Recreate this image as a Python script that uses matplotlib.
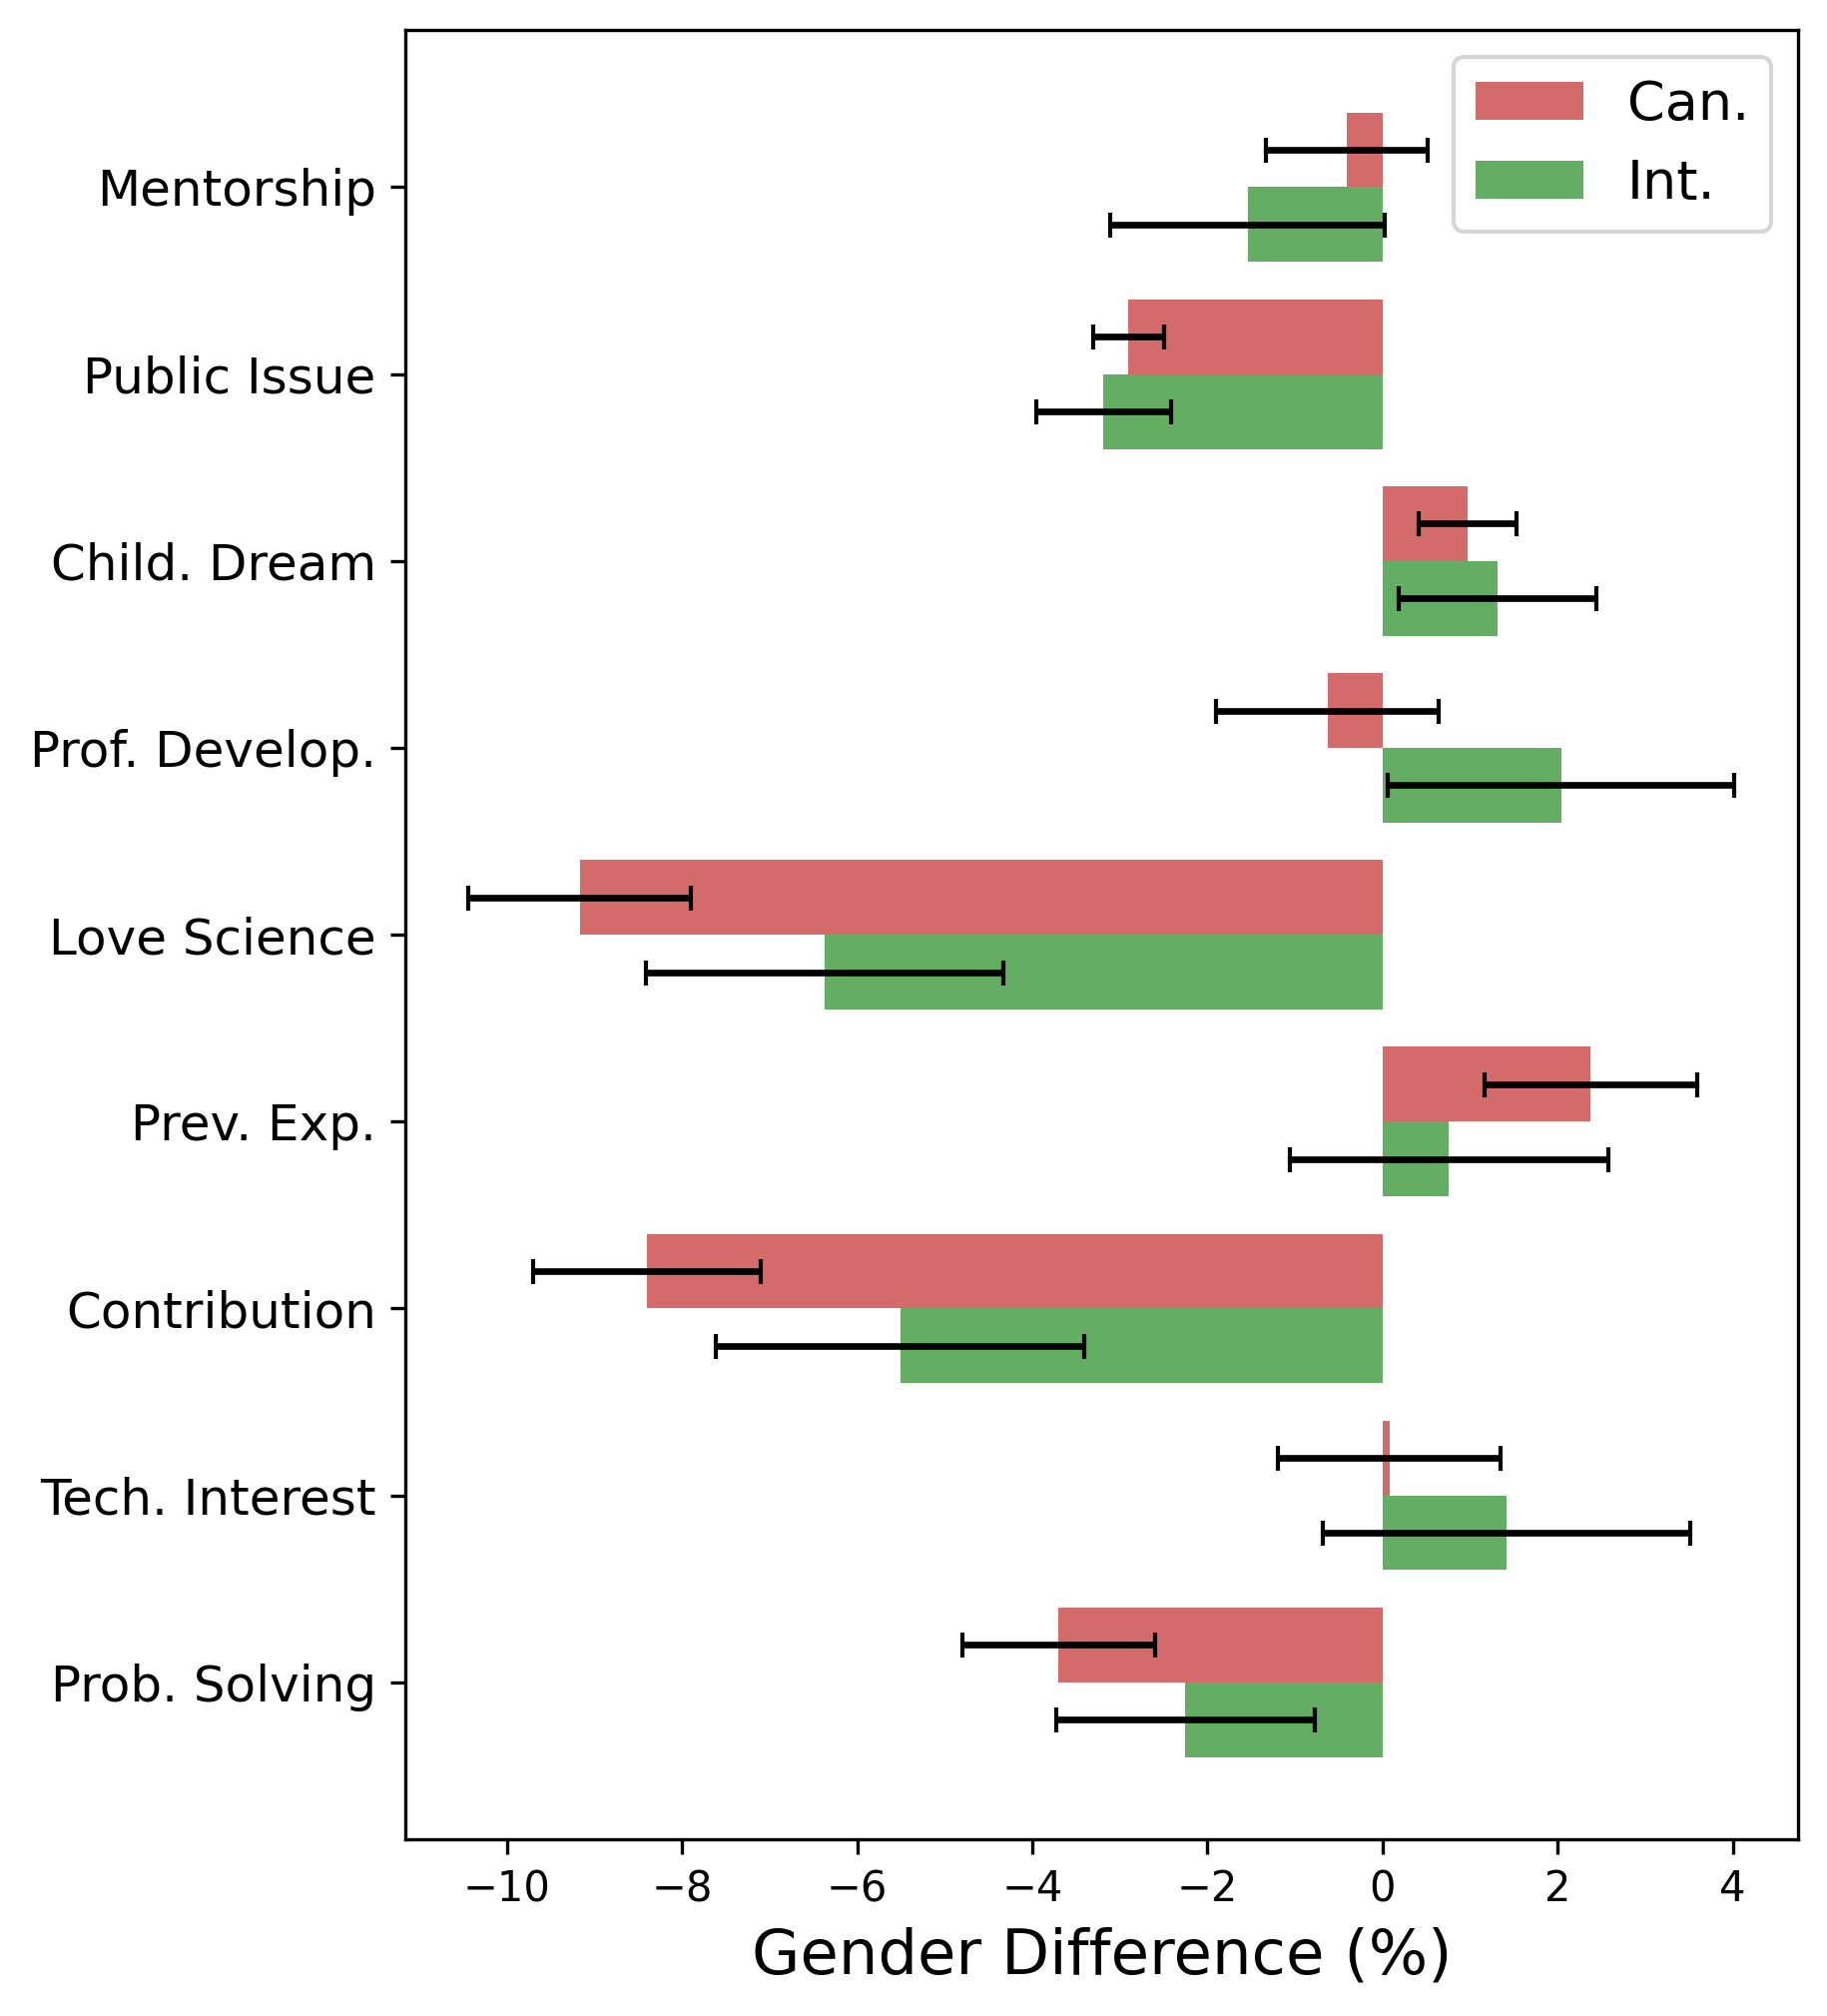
import numpy as np
import matplotlib.pyplot as plt

categories = ['Mentorship', 'Public Issue', 'Child. Dream', 'Prof. Develop.',
              'Love Science', 'Prev. Exp.', 'Contribution', 'Tech. Interest',
              'Prob. Solving']
can_diff = [-0.41, -2.90, 0.97, -0.63, -9.17, 2.38, -8.40, 0.08, -3.70]
can_err = [0.92, 0.41, 0.56, 1.27, 1.27, 1.21, 1.30, 1.27, 1.10]
int_diff = [-1.54, -3.19, 1.31, 2.04, -6.37, 0.76, -5.51, 1.42, -2.25]
int_err = [1.57, 0.77, 1.13, 1.98, 2.04, 1.82, 2.10, 2.10, 1.48]

# first category on top
y = np.arange(len(categories))[::-1]
h = 0.4

fig, ax = plt.subplots(figsize=(6.103, 6.73), dpi=300)
fig.subplots_adjust(left=0.2217, right=0.9835, top=0.985, bottom=0.0877)

ax.barh(y + h / 2, can_diff, height=h, color='#D36B6B', label='Can.',
        xerr=can_err, capsize=3, error_kw=dict(elinewidth=1.6, ecolor='black'))
ax.barh(y - h / 2, int_diff, height=h, color='#63AE62', label='Int.',
        xerr=int_err, capsize=3, error_kw=dict(elinewidth=1.6, ecolor='black'))

ax.set_yticks(y)
ax.set_yticklabels(categories, fontsize=12)
ax.tick_params(axis='x', labelsize=10)
ax.set_xlabel('Gender Difference (%)', fontsize=15)
ax.legend(fontsize=13)

plt.savefig('out.png', dpi=300)
